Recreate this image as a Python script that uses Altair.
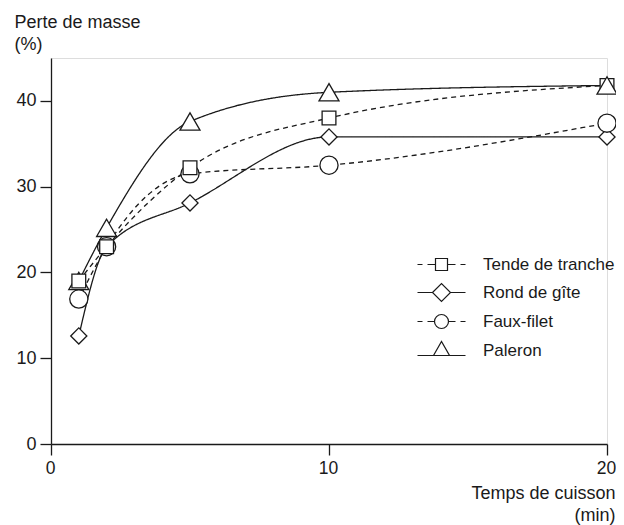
import altair as alt
import pandas as pd

# ---- data ----
series = ["Tende de tranche", "Rond de gîte", "Faux-filet", "Paleron"]
times = [1, 2, 5, 10, 20]
tende = [19.0, 23.0, 32.2, 38.0, 41.8]
rond = [12.6, 23.0, 28.1, 35.8, 35.8]
faux = [16.9, 23.0, 31.5, 32.5, 37.4]
paleron = [19.0, 25.2, 37.6, 41.0, 41.8]
x_ticks = [0, 10, 20]
y_ticks = [0, 10, 20, 30, 40]

values = {
    "Tende de tranche": tende,
    "Rond de gîte": rond,
    "Faux-filet": faux,
    "Paleron": paleron,
}
rows = []
for s in series:
    for t, v in zip(times, values[s]):
        rows.append({"serie": s, "t": t, "perte": v})
df = pd.DataFrame(rows)

FONT = "Liberation Sans"
INK = "#1a1a1a"

point_shapes = ["square", "diamond", "circle", "triangle-up"]
point_sizes = [190, 400, 280, 220]
dashes = [[5, 4], [1, 0], [5, 4], [1, 0]]

legend_paths = [
    "M-24,0H-19M-14,0H-6M6,0H14M19,0H24M-6,-6H6V6H-6Z",
    "M-24,0H-9M9,0H24M-9,0L0,-9L9,0L0,9Z",
    "M-24,0H-19M-14,0H-7M7,0H14M19,0H24M-7,0A7,7 0 1,1 7,0A7,7 0 1,1 -7,0Z",
    "M-24,5H-8M8,5H24M-8,5L0,-9L8,5Z",
]

x_enc = alt.X(
    "t:Q",
    scale=alt.Scale(domain=[0, 20], nice=False),
    axis=alt.Axis(
        values=x_ticks,
        tickSize=11,
        tickWidth=1.3,
        tickColor=INK,
        domainColor=INK,
        domainWidth=1.3,
        labelFont=FONT,
        labelFontSize=17.5,
        labelColor=INK,
        labelPadding=4,
        labelOffset=-1,
        labelFlush=False,
        grid=False,
        title=["Temps de cuisson", "(min)"],
        titleFont=FONT,
        titleFontSize=18,
        titleFontWeight="normal",
        titleColor=INK,
        titleAlign="right",
        titleBaseline="alphabetic",
        titleLineHeight=22,
        titleX=564,
        titleY=54,
    ),
)
y_enc = alt.Y(
    "perte:Q",
    scale=alt.Scale(domain=[0, 45], nice=False),
    axis=alt.Axis(
        values=y_ticks,
        tickSize=11,
        tickWidth=1.3,
        tickColor=INK,
        domainColor=INK,
        domainWidth=1.3,
        labelFont=FONT,
        labelFontSize=18,
        labelColor=INK,
        labelPadding=4,
        labelFlush=False,
        grid=False,
        title=["Perte de masse", "(%)"],
        titleFont=FONT,
        titleFontSize=18,
        titleFontWeight="normal",
        titleColor=INK,
        titleAngle=0,
        titleAlign="left",
        titleBaseline="alphabetic",
        titleLineHeight=22,
        titleX=-37,
        titleY=-31,
    ),
)

lines = alt.Chart(df).mark_line(interpolate="monotone", strokeWidth=1.3, color=INK).encode(
    x=x_enc,
    y=y_enc,
    detail="serie:N",
    strokeDash=alt.StrokeDash(
        "serie:N", scale=alt.Scale(domain=series, range=dashes), legend=None
    ),
)

# drawing order of the markers (which one lies on top where they overlap)
points = alt.Chart(df).transform_calculate(
    z="(datum.serie == 'Rond de gîte' ? 1 : datum.serie == 'Faux-filet' ? 2 : "
      "datum.serie == 'Tende de tranche' ? 3 : 4) - (datum.serie == 'Paleron' && datum.t == 1 ? 10 : 0)"
).mark_point(
    filled=True, fill="white", stroke=INK, strokeWidth=1.3, opacity=1
).encode(
    x="t:Q",
    y="perte:Q",
    order=alt.Order("z:Q"),
    shape=alt.Shape(
        "serie:N", scale=alt.Scale(domain=series, range=point_shapes), legend=None
    ),
    size=alt.Size(
        "serie:N", scale=alt.Scale(domain=series, range=point_sizes), legend=None
    ),
)

legend_layer = alt.Chart(df).transform_filter(alt.datum.t < 0).mark_point(
    filled=False, stroke=INK, strokeWidth=1.2, opacity=1
).encode(
    x="t:Q",
    y="perte:Q",
    shape=alt.Shape(
        "serie:N",
        scale=alt.Scale(domain=series, range=legend_paths),
        legend=alt.Legend(
            title=None,
            orient="none",
            legendX=382,
            legendY=198,
            symbolSize=4,
            symbolStrokeWidth=1.2,
            symbolStrokeColor=INK,
            labelOffset=33,
            labelFont=FONT,
            labelFontSize=17,
            labelColor=INK,
            rowPadding=8,
        ),
    ),
)

chart = (
    alt.layer(lines, points, legend_layer)
    .resolve_scale(shape="independent")
    .properties(
        width=556,
        height=386,
        autosize=alt.AutoSizeParams(type="none"),
        padding={"left": 43, "top": 50, "right": 9, "bottom": 81},
    )
    .configure_view(stroke=None)
    .configure(background="white")
)

chart.save("out.html", embed_options={"renderer": "svg", "actions": False})
